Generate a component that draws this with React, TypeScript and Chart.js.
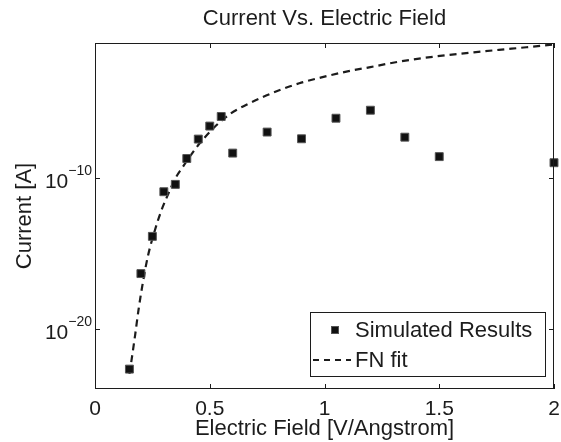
import React, { useEffect, useRef } from 'react';
import { Chart, registerables } from 'chart.js';

Chart.register(...registerables);

const titleText = 'Current Vs. Electric Field';
const xAxisTitle = 'Electric Field [V/Angstrom]';
const yAxisTitle = 'Current [A]';
const simLabel = 'Simulated Results';
const fitLabel = 'FN fit';

// Simulated results (field in V/Angstrom, current in A)
const simField = [0.15, 0.2, 0.25, 0.3, 0.35, 0.4, 0.45, 0.5, 0.55, 0.6, 0.75, 0.9, 1.05, 1.2, 1.35, 1.5, 2.0];
const simCurrent = [2.1e-23, 4.7e-17, 1.4e-14, 1.3e-11, 4.0e-11, 2.1e-9, 4.1e-8, 3.0e-7, 1.3e-6, 4.8e-9, 1.2e-7, 4.3e-8, 1.0e-6, 3.4e-6, 5.5e-8, 2.8e-9, 1.1e-9];

// FN fit curve
const fitField = [0.15, 0.16, 0.175, 0.19, 0.21, 0.23, 0.26, 0.29, 0.32, 0.35, 0.38, 0.42, 0.46, 0.52, 0.59, 0.66, 0.73, 0.81, 0.89, 1.0, 1.1, 1.2, 1.32, 1.43, 1.54, 1.65, 1.76, 1.88, 2.0];
const fitCurrent = [1.0e-23, 1.0e-22, 4.0e-21, 2.0e-19, 1.6e-17, 6.3e-16, 3.2e-14, 7.9e-13, 1.0e-11, 1.0e-10, 5.0e-10, 4.0e-9, 2.5e-8, 2.5e-7, 2.0e-6, 7.9e-6, 2.5e-5, 7.9e-5, 2.1e-4, 5.8e-4, 1.3e-3, 2.5e-3, 5.6e-3, 1.0e-2, 1.6e-2, 2.4e-2, 3.5e-2, 5.2e-2, 7.9e-2];

const xTickValues = [0, 0.5, 1, 1.5, 2];
const yTickValues = [1e-20, 1e-10];
const xMin = 0;
const xMax = 2;
const yMin = 1e-24;
const yMax = 1e-1;

const FONT = '"Liberation Sans", Arial, Helvetica, sans-serif';
const INK = '#1c1c1c';
const MARK_FILL = '#111111';
const MARK_EDGE = '#555555';
const DASH = [7, 5];

const matlabPlugin = {
  id: 'matlabAxes',
  afterDatasetsDraw(chart: any) {
    const { ctx, chartArea: a, scales } = chart;
    const x = scales.x;
    const y = scales.y;
    ctx.save();
    ctx.setLineDash([]);
    ctx.strokeStyle = INK;
    ctx.lineWidth = 1;
    // axes box
    ctx.strokeRect(a.left + 0.5, a.top + 0.5, a.right - a.left - 1, a.bottom - a.top - 1);
    // inward tick marks on all four sides
    const tl = 5;
    ctx.beginPath();
    xTickValues.forEach((v) => {
      const px = Math.round(x.getPixelForValue(v)) + 0.5;
      ctx.moveTo(px, a.bottom);
      ctx.lineTo(px, a.bottom - tl);
      ctx.moveTo(px, a.top);
      ctx.lineTo(px, a.top + tl);
    });
    yTickValues.forEach((v) => {
      const py = Math.round(y.getPixelForValue(v)) + 0.5;
      ctx.moveTo(a.left, py);
      ctx.lineTo(a.left + tl, py);
      ctx.moveTo(a.right, py);
      ctx.lineTo(a.right - tl, py);
    });
    ctx.stroke();

    // y tick labels as 10 with superscript exponent
    ctx.fillStyle = INK;
    yTickValues.forEach((v) => {
      const py = y.getPixelForValue(v);
      const exp = Math.round(Math.log10(v));
      const supText = (exp < 0 ? '\u2212' : '') + String(Math.abs(exp));
      const rightX = a.left - 3;
      ctx.font = `14px ${FONT}`;
      ctx.textAlign = 'right';
      ctx.textBaseline = 'alphabetic';
      const supW = ctx.measureText(supText).width;
      ctx.fillText(supText, rightX, py - 3);
      ctx.font = `21px ${FONT}`;
      ctx.fillText('10', rightX - supW, py + 10);
    });

    // legend box
    const ds = chart.data.datasets;
    const bw = 235;
    const bh = 64;
    const bx = a.right - 9 - bw;
    const by = a.bottom - 13 - bh;
    ctx.fillStyle = '#ffffff';
    ctx.fillRect(bx, by, bw, bh);
    ctx.strokeStyle = INK;
    ctx.lineWidth = 1;
    ctx.strokeRect(bx + 0.5, by + 0.5, bw, bh);
    const row1 = by + 18;
    const row2 = by + 48;
    // marker sample
    ctx.fillStyle = MARK_FILL;
    ctx.strokeStyle = MARK_EDGE;
    ctx.fillRect(bx + 21, row1 - 4, 8, 8);
    ctx.strokeRect(bx + 21.5, row1 - 3.5, 7, 7);
    // dashed sample
    ctx.strokeStyle = INK;
    ctx.lineWidth = 2;
    ctx.setLineDash([6, 5]);
    ctx.beginPath();
    ctx.moveTo(bx + 3, row2);
    ctx.lineTo(bx + 41, row2);
    ctx.stroke();
    ctx.setLineDash([]);
    ctx.fillStyle = INK;
    ctx.font = `22px ${FONT}`;
    ctx.textAlign = 'left';
    ctx.textBaseline = 'middle';
    ctx.fillText(ds[0].label, bx + 45, row1 + 1);
    ctx.fillText(ds[1].label, bx + 45, row2 + 1);
    ctx.restore();
  },
};

export default function App() {
  const canvasRef = useRef<HTMLCanvasElement | null>(null);

  useEffect(() => {
    const canvas = canvasRef.current;
    if (!canvas) return;
    const chart = new Chart(canvas, {
      type: 'scatter',
      data: {
        datasets: [
          {
            label: simLabel,
            data: simField.map((f, i) => ({ x: f, y: simCurrent[i] })),
            showLine: false,
            pointStyle: 'rect',
            pointRadius: 5.6,
            pointBackgroundColor: MARK_FILL,
            pointBorderColor: MARK_EDGE,
            pointBorderWidth: 1,
            clip: false,
          } as any,
          {
            label: fitLabel,
            data: fitField.map((f, i) => ({ x: f, y: fitCurrent[i] })),
            showLine: true,
            pointRadius: 0,
            borderColor: INK,
            borderWidth: 2.2,
            borderDash: DASH,
            cubicInterpolationMode: 'monotone',
            fill: false,
            clip: false,
          } as any,
        ],
      },
      options: {
        responsive: false,
        animation: false,
        devicePixelRatio: 1,
        layout: { padding: { left: 0, right: 7, top: 0, bottom: 0 }, autoPadding: false },
        events: [],
        plugins: {
          legend: { display: false },
          tooltip: { enabled: false },
          title: {
            display: true,
            fullSize: false,
            text: titleText,
            color: INK,
            font: { family: FONT, size: 22, weight: 'normal' },
            padding: { top: 6, bottom: 10.6 },
          },
        },
        scales: {
          x: {
            type: 'linear',
            position: 'bottom',
            min: xMin,
            max: xMax,
            grid: { display: false, drawTicks: false },
            border: { display: false },
            ticks: {
              color: INK,
              font: { family: FONT, size: 21 },
              padding: 8,
              autoSkip: false,
              maxRotation: 0,
              callback: (v: any) => String(v),
            },
            afterBuildTicks: (s: any) => {
              s.ticks = xTickValues.map((v) => ({ value: v }));
            },
            afterFit: (s: any) => {
              s.height = 53;
              s.paddingLeft = 0;
              s.paddingRight = 0;
              s.paddingTop = 0;
              s.paddingBottom = 0;
            },
            title: {
              display: true,
              text: xAxisTitle,
              color: INK,
              font: { family: FONT, size: 22 },
              padding: { top: 0, bottom: 0 },
            },
          },
          y: {
            type: 'logarithmic',
            position: 'left',
            min: yMin,
            max: yMax,
            grid: { display: false, drawTicks: false },
            border: { display: false },
            ticks: { display: false },
            afterBuildTicks: (s: any) => {
              s.ticks = yTickValues.map((v) => ({ value: v }));
            },
            afterFit: (s: any) => {
              s.width = 95;
              s.paddingLeft = 0;
              s.paddingRight = 0;
              s.paddingTop = 0;
              s.paddingBottom = 0;
            },
            title: {
              display: true,
              text: yAxisTitle,
              color: INK,
              font: { family: FONT, size: 22 },
              padding: { top: 12, bottom: 0 },
            },
          },
        },
      } as any,
      plugins: [matlabPlugin],
    });
    return () => chart.destroy();
  }, []);

  return (
    <div style={{ position: 'absolute', left: 0, top: 0, width: 561, height: 442, background: '#fff' }}>
      <canvas ref={canvasRef} width={561} height={442} style={{ display: 'block' }} />
    </div>
  );
}
